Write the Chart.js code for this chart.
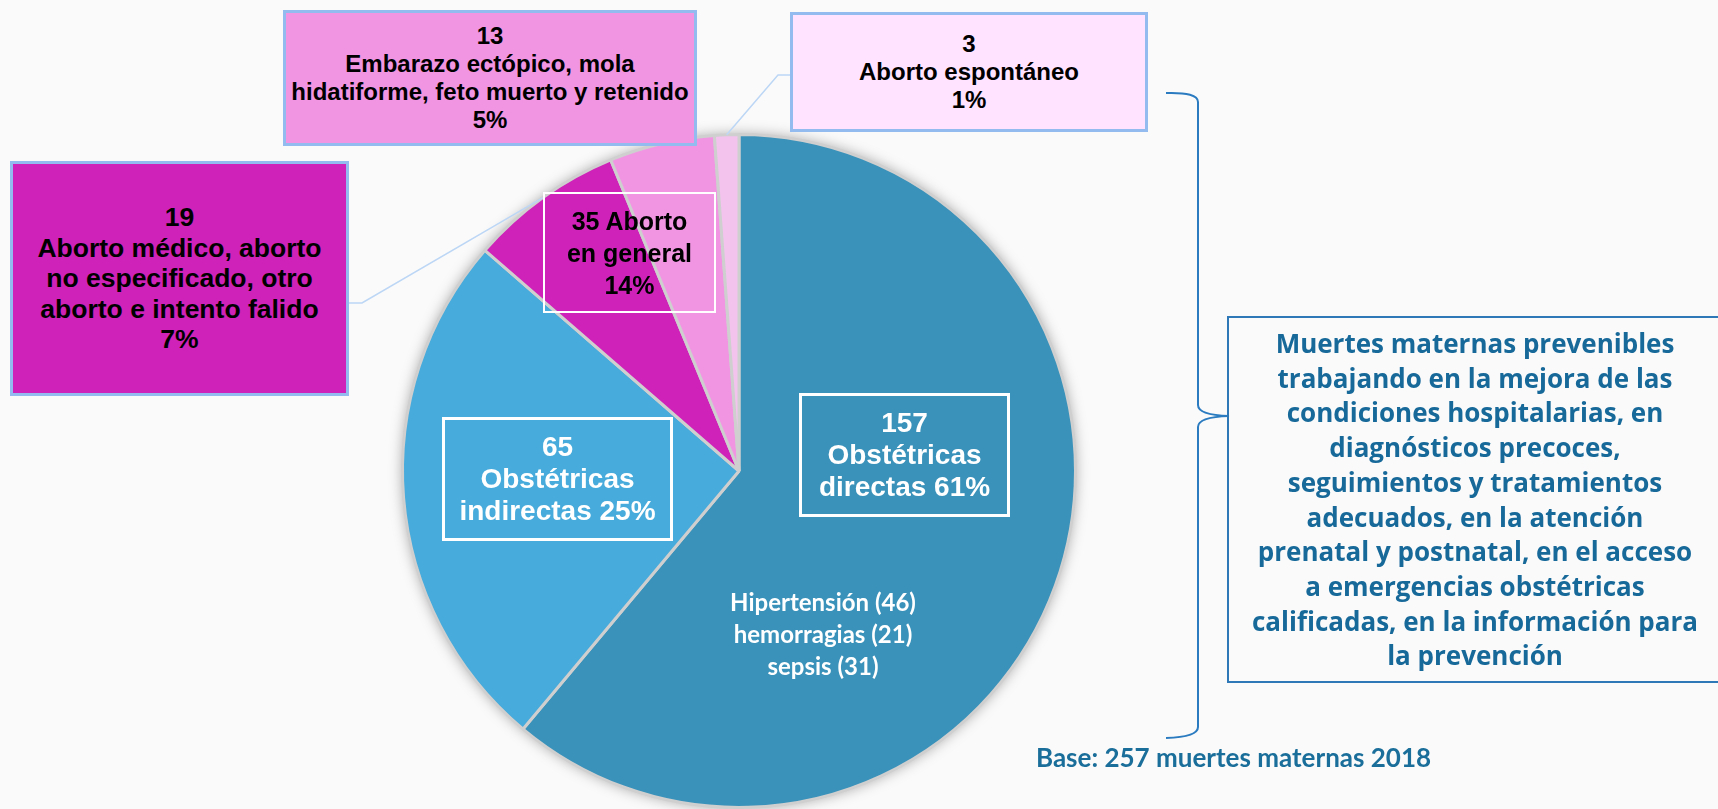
<!DOCTYPE html>
<html lang="es">
<head>
<meta charset="utf-8">
<script src="https://cdn.jsdelivr.net/npm/chart.js@4.4.1/dist/chart.umd.min.js"></script>
<style>
  body { margin: 0; background: #fafafa; overflow: hidden; }
  #wrap { position: relative; width: 1718px; height: 809px; overflow: hidden; }
  #myChart { position: absolute; left: 0; top: 0; }
  .caja {
    position: absolute; box-sizing: border-box;
    display: flex; align-items: center; justify-content: center; text-align: center;
    font-family: "Liberation Sans", Arial, sans-serif; font-weight: bold; color: #000;
  }
  .azul { border: 3px solid #93bbf0; }
  .blanca { border: 3px solid #fff; color: #fff; }
</style>
</head>
<body>
<div id="wrap">
  <canvas id="myChart" width="1718" height="809"></canvas>

  <div id="c13" class="caja azul" style="left:283px; top:10px; width:414px; height:136px; background:#f195e3; font-size:24px; line-height:28px;"></div>
  <div id="c3" class="caja azul" style="left:790px; top:12px; width:358px; height:120px; background:#ffe3ff; font-size:24px; line-height:28px;"></div>
  <div id="c19" class="caja azul" style="left:10px; top:161px; width:339px; height:235px; background:#cf22b8; font-size:26.5px; line-height:30.5px;"></div>
  <div id="c35" class="caja" style="left:543px; top:192px; width:173px; height:121px; border:2px solid #fff; font-size:25px; line-height:32px;"></div>
  <div id="c65" class="caja blanca" style="left:442px; top:417px; width:231px; height:124px; font-size:28px; line-height:32px;"></div>
  <div id="c157" class="caja blanca" style="left:799px; top:393px; width:211px; height:124px; font-size:28px; line-height:32px;"></div>
  <div id="causas" style="position:absolute; left:673px; top:586px; width:300px; text-align:center; font-family:Lato, sans-serif; font-weight:bold; font-size:24px; line-height:32px; color:#fff;"></div>

  <div class="caja" style="left:1227px; top:316px; width:496px; height:367px; border:2px solid #2e78b7; font-family:'Open Sans', sans-serif; font-size:26px; line-height:34.7px; color:#17699a;">
    Muertes maternas prevenibles<br>trabajando en la mejora de las<br>condiciones hospitalarias, en<br>diagnósticos precoces,<br>seguimientos y tratamientos<br>adecuados, en la atención<br>prenatal y postnatal, en el acceso<br>a emergencias obstétricas<br>calificadas, en la información para<br>la prevención
  </div>
  <div id="base" style="position:absolute; left:1036px; top:742px; font-family:Lato, sans-serif; font-weight:bold; font-size:26px; line-height:30px; color:#1a6e9a; white-space:nowrap;"></div>
</div>

<script>
// datos: muertes maternas 2018 por tipo de causa
let categorias = ["Obstétricas directas", "Obstétricas indirectas",
  "Aborto médico, aborto no especificado, otro aborto e intento falido",
  "Embarazo ectópico, mola hidatiforme, feto muerto y retenido",
  "Aborto espontáneo"];
let muertes = [157, 65, 19, 13, 3];
let causasDirectas = ["Hipertensión", "hemorragias", "sepsis"];
let causasValores = [46, 21, 31];

let colorHex = ["#3a92ba", "#47abdb", "#cf22b8", "#f195e3", "#f3c3ee"];

const total = muertes.reduce((a, b) => a + b, 0);
const aborto = muertes[2] + muertes[3] + muertes[4];
function pct(v) { return Math.round(v / total * 100) + "%"; }

document.getElementById("c13").innerHTML = muertes[3] + "<br>Embarazo ectópico, mola<br>hidatiforme, feto muerto y retenido<br>" + pct(muertes[3]);
document.getElementById("c3").innerHTML = muertes[4] + "<br>Aborto espontáneo<br>" + pct(muertes[4]);
document.getElementById("c19").innerHTML = muertes[2] + "<br>Aborto médico, aborto<br>no especificado, otro<br>aborto e intento falido<br>" + pct(muertes[2]);
document.getElementById("c35").innerHTML = aborto + " Aborto<br>en general<br>" + pct(aborto);
document.getElementById("c65").innerHTML = muertes[1] + "<br>Obstétricas<br>indirectas " + pct(muertes[1]);
document.getElementById("c157").innerHTML = muertes[0] + "<br>Obstétricas<br>directas " + pct(muertes[0]);
document.getElementById("causas").innerHTML = causasDirectas.map((c, i) => c + " (" + causasValores[i] + ")").join("<br>");
document.getElementById("base").textContent = "Base: " + total + " muertes maternas 2018";

// sombra suave debajo del pastel
const sombra = {
  id: "sombra",
  beforeDatasetsDraw(chart) {
    const arc = chart.getDatasetMeta(0).data[0];
    const c = chart.ctx;
    c.save();
    c.shadowColor = "rgba(0,0,0,0.35)";
    c.shadowBlur = 14;
    c.fillStyle = "#d0d0d0";
    c.beginPath();
    c.arc(arc.x, arc.y, arc.outerRadius, 0, Math.PI * 2);
    c.fill();
    c.restore();
  }
};

// lineas guia y llave
const guias = {
  id: "guias",
  afterDatasetsDraw(chart) {
    const c = chart.ctx;
    const meta = chart.getDatasetMeta(0);
    function borde(i) {
      const a = meta.data[i];
      const m = (a.startAngle + a.endAngle) / 2;
      return [a.x + Math.cos(m) * a.outerRadius, a.y + Math.sin(m) * a.outerRadius];
    }
    c.save();
    c.strokeStyle = "#bcd6f5";
    c.lineWidth = 1.5;
    let p = borde(2);
    c.beginPath(); c.moveTo(349, 303); c.lineTo(362, 303); c.lineTo(p[0], p[1]); c.stroke();
    p = borde(4);
    c.beginPath(); c.moveTo(790, 75); c.lineTo(778, 75); c.lineTo(p[0], p[1]); c.stroke();

    c.strokeStyle = "#2a7bc0";
    c.lineWidth = 2;
    c.beginPath();
    c.moveTo(1166, 93);
    c.quadraticCurveTo(1198, 92, 1198, 102);
    c.lineTo(1198, 405);
    c.quadraticCurveTo(1198, 415, 1229, 416);
    c.quadraticCurveTo(1198, 417, 1198, 427);
    c.lineTo(1198, 727);
    c.quadraticCurveTo(1198, 737, 1166, 738);
    c.stroke();
    c.restore();
  }
};

let ctx = document.getElementById("myChart").getContext("2d");

let myChart = new Chart(ctx, {
  type: "pie",
  data: {
    labels: categorias,
    datasets: [
      {
        data: muertes,
        backgroundColor: colorHex,
        borderColor: "#cfcfcf",
        borderWidth: 3,
      },
    ],
  },
  options: {
    responsive: false,
    animation: false,
    layout: { padding: { left: 400, right: 640, top: 133, bottom: 0 } },
    plugins: {
      legend: { display: false },
      tooltip: { enabled: false },
    },
  },
  plugins: [sombra, guias],
});
</script>
</body>
</html>
